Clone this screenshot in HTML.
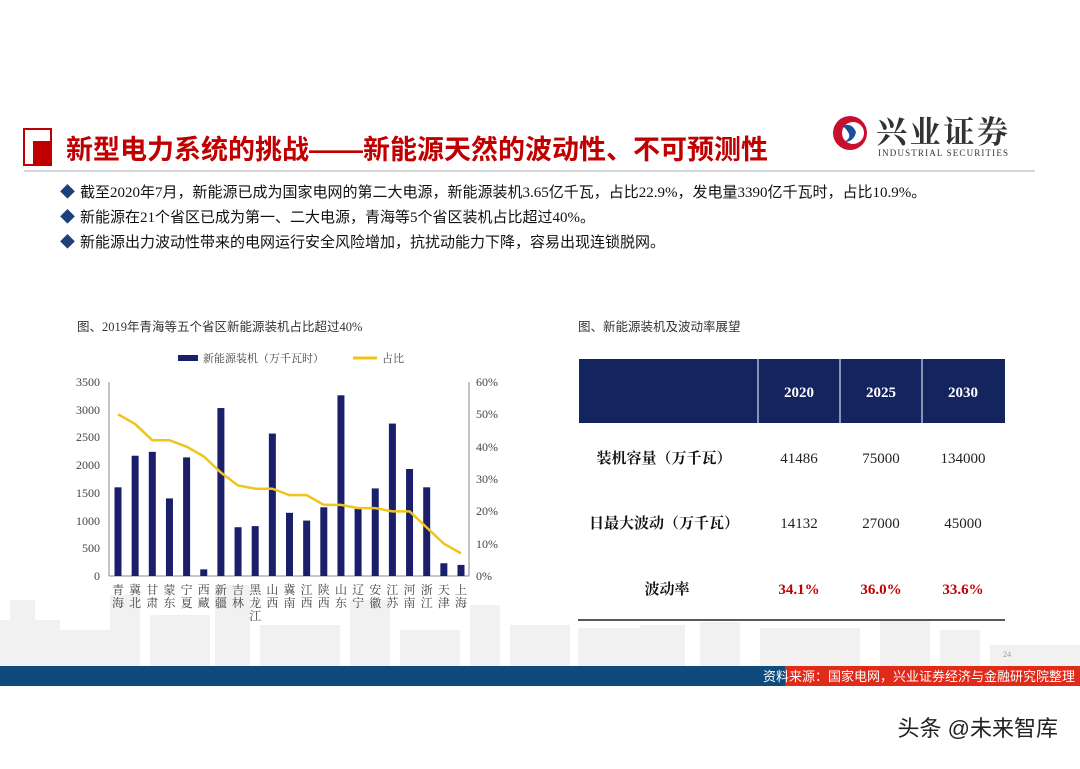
<!DOCTYPE html>
<html><head><meta charset="utf-8"><style>
body{margin:0;background:#fff;}
svg text{font-family:"Liberation Serif","Noto Serif CJK SC",serif;}
.s{font-family:"Liberation Sans","Noto Sans CJK SC",sans-serif;}
</style></head><body>
<svg width="1080" height="764" xmlns="http://www.w3.org/2000/svg">
<rect width="1080" height="764" fill="#fff"/>
<!-- skyline -->
<g fill="#f1f1f1">
<rect x="0" y="620" width="60" height="46"/><rect x="10" y="600" width="25" height="66"/>
<rect x="60" y="630" width="50" height="36"/><rect x="110" y="595" width="30" height="71"/>
<rect x="150" y="615" width="60" height="51"/><rect x="215" y="585" width="35" height="81"/>
<rect x="260" y="625" width="80" height="41"/><rect x="350" y="600" width="40" height="66"/>
<rect x="400" y="630" width="60" height="36"/><rect x="470" y="605" width="30" height="61"/>
<rect x="510" y="625" width="60" height="41"/><rect x="578" y="628" width="80" height="38"/>
<rect x="640" y="625" width="45" height="41"/><rect x="700" y="622" width="40" height="44"/>
<rect x="760" y="628" width="100" height="38"/><rect x="880" y="620" width="50" height="46"/>
<rect x="940" y="630" width="40" height="36"/><rect x="990" y="645" width="90" height="21"/>
</g>
<!-- header -->
<rect x="24" y="129" width="27" height="36" fill="none" stroke="#c00000" stroke-width="2"/>
<rect x="33" y="141" width="18" height="24" fill="#c00000"/>
<text x="66" y="159" class="s" font-size="27" font-weight="bold" fill="#c00000">新型电力系统的挑战——新能源天然的波动性、不可预测性</text>
<line x1="24" y1="171" x2="1035" y2="171" stroke="#cccccc" stroke-width="1.5"/>
<circle cx="850" cy="133" r="17" fill="#c8102e"/>
<circle cx="853" cy="133" r="11" fill="#fff"/>
<path d="M842 126 q10 -4 14 6 q-2 10 -12 10 q8 -4 4 -10 q-2 -4 -6 -6z" fill="#1d4e9e"/>
<text x="876" y="143" font-size="31" font-weight="bold" fill="#333" textLength="132" style="font-family:'Noto Serif CJK SC',serif">兴业证券</text>
<text x="878" y="156" font-size="9" fill="#333" textLength="130">INDUSTRIAL SECURITIES</text>
<!-- bullets -->
<g font-size="15" fill="#111">
<text x="60" y="197" fill="#1f3f7a" class="s">◆</text><text x="80" y="197" style="font-family:'Liberation Serif','Noto Sans CJK SC',serif">截至2020年7月，新能源已成为国家电网的第二大电源，新能源装机3.65亿千瓦，占比22.9%，发电量3390亿千瓦时，占比10.9%。</text>
<text x="60" y="222" fill="#1f3f7a" class="s">◆</text><text x="80" y="222" style="font-family:'Liberation Serif','Noto Sans CJK SC',serif">新能源在21个省区已成为第一、二大电源，青海等5个省区装机占比超过40%。</text>
<text x="60" y="247" fill="#1f3f7a" class="s">◆</text><text x="80" y="247" style="font-family:'Liberation Serif','Noto Sans CJK SC',serif">新能源出力波动性带来的电网运行安全风险增加，抗扰动能力下降，容易出现连锁脱网。</text>
</g>
<!-- chart left -->
<text x="77" y="331" font-size="12.5" fill="#333" style="font-family:'Liberation Serif','Noto Sans CJK SC',serif">图、2019年青海等五个省区新能源装机占比超过40%</text>
<rect x="178" y="355" width="20" height="6" fill="#1b1f6b"/>
<text x="203" y="362" font-size="11" fill="#444" style="font-family:'Noto Serif CJK SC',serif">新能源装机（万千瓦时）</text>
<line x1="353" y1="358" x2="377" y2="358" stroke="#f0c419" stroke-width="3"/>
<text x="382" y="362" font-size="11" fill="#444" style="font-family:'Noto Serif CJK SC',serif">占比</text>
<g stroke="#888" stroke-width="1" fill="none">
<line x1="109" y1="382" x2="109" y2="576"/><line x1="109" y1="576" x2="469" y2="576"/><line x1="469" y1="382" x2="469" y2="576"/>
</g>
<g font-size="12" fill="#444" text-anchor="end">
<text x="100" y="580">0</text><text x="100" y="552">500</text><text x="100" y="525">1000</text><text x="100" y="497">1500</text><text x="100" y="469">2000</text><text x="100" y="441">2500</text><text x="100" y="414">3000</text><text x="100" y="386">3500</text>
</g>
<g font-size="12" fill="#444">
<text x="476" y="580">0%</text><text x="476" y="548">10%</text><text x="476" y="515">20%</text><text x="476" y="483">30%</text><text x="476" y="451">40%</text><text x="476" y="418">50%</text><text x="476" y="386">60%</text>
</g>
<g id="bars" fill="#1b1f6b"></g>
<polyline id="line" fill="none" stroke="#f0c419" stroke-width="2.5"/>
<g id="labs" font-size="12" fill="#444" style="font-family:'Noto Serif CJK SC',serif" text-anchor="middle"></g>
<!-- table -->
<text x="578" y="331" class="s" font-size="12.5" fill="#333">图、新能源装机及波动率展望</text>
<rect x="579" y="359" width="426" height="64" fill="#13245f"/>
<g stroke="#fff" stroke-width="1"><line x1="758" y1="359" x2="758" y2="423"/><line x1="840" y1="359" x2="840" y2="423"/><line x1="922" y1="359" x2="922" y2="423"/></g>
<g font-size="15" font-weight="bold" fill="#fff" text-anchor="middle"><text x="799" y="397">2020</text><text x="881" y="397">2025</text><text x="963" y="397">2030</text></g>
<g class="s" font-size="15" font-weight="bold" fill="#111" text-anchor="middle" style="font-family:'Liberation Sans','Noto Sans CJK SC',sans-serif">
<text x="664" y="463">装机容量（万千瓦）</text><text x="664" y="528">日最大波动（万千瓦）</text><text x="667" y="594">波动率</text></g>
<g font-size="15" fill="#222" text-anchor="middle">
<text x="799" y="463">41486</text><text x="881" y="463">75000</text><text x="963" y="463">134000</text>
<text x="799" y="528">14132</text><text x="881" y="528">27000</text><text x="963" y="528">45000</text></g>
<g font-size="15" font-weight="bold" fill="#c00000" text-anchor="middle"><text x="799" y="594">34.1%</text><text x="881" y="594">36.0%</text><text x="963" y="594">33.6%</text></g>
<line x1="578" y1="620" x2="1005" y2="620" stroke="#222" stroke-width="1.5"/>
<text x="1003" y="657" font-size="8" fill="#999">24</text>
<!-- footer -->
<rect x="0" y="666" width="1080" height="20" fill="#0f4a7d"/>
<rect x="785" y="666" width="295" height="20" fill="#e02a1a"/>
<text x="1075" y="681" class="s" font-size="13" fill="#fff" text-anchor="end">资料来源：国家电网，兴业证券经济与金融研究院整理</text>
<text x="1058" y="736" class="s" font-size="22" fill="#222" text-anchor="end">头条 @未来智库</text>
</svg>
<script>
var v=[1600,2170,2240,1400,2140,120,3030,880,900,2570,1140,1000,1240,3260,1210,1580,2750,1930,1600,230,200];
var p=[50,47,42,42,40,37,32,28,27,27,25,25,22,22,21,21,20,20,15,10,7];
var n=["青海","冀北","甘肃","蒙东","宁夏","西藏","新疆","吉林","黑龙江","山西","冀南","江西","陕西","山东","辽宁","安徽","江苏","河南","浙江","天津","上海"];
var ns="http://www.w3.org/2000/svg",b=document.getElementById("bars"),L=document.getElementById("labs"),pts=[];
for(var i=0;i<21;i++){var cx=118+i*17.15,h=v[i]/3500*194;
var r=document.createElementNS(ns,"rect");r.setAttribute("x",cx-3.5);r.setAttribute("y",576-h);r.setAttribute("width",7);r.setAttribute("height",h);b.appendChild(r);
pts.push(cx+","+(576-p[i]/60*194));
for(var j=0;j<n[i].length;j++){var t=document.createElementNS(ns,"text");t.setAttribute("x",cx);t.setAttribute("y",594+j*13);t.textContent=n[i][j];L.appendChild(t);}}
document.getElementById("line").setAttribute("points",pts.join(" "));
</script>
</body></html>
